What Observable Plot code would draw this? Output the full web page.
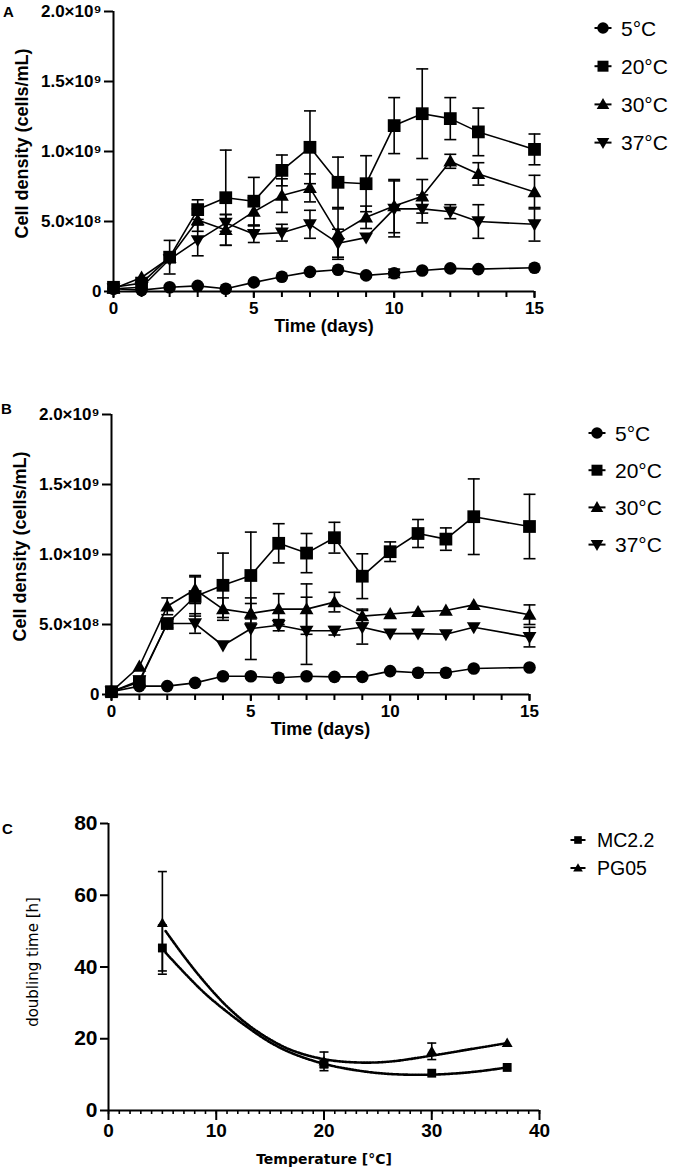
<!DOCTYPE html>
<html><head><meta charset="utf-8">
<script src="https://cdn.jsdelivr.net/npm/d3@7"></script>
<script src="https://cdn.jsdelivr.net/npm/@observablehq/plot@0.6"></script>
<style>
body{margin:0;background:#fff;width:675px;height:1174px;position:relative;overflow:hidden;font-family:"Liberation Sans",Arial,sans-serif}
.panel{position:absolute;left:0}
.letter{position:absolute;font-weight:bold;font-size:15px;line-height:1;color:#000}
.legend{position:absolute;left:0;top:0}
</style></head><body>
<div class="letter" style="left:3px;top:4px">A</div>
<div class="letter" style="left:1px;top:401px">B</div>
<div class="letter" style="left:2px;top:821px">C</div>
<div id="A" class="panel" style="top:0"></div>
<div id="B" class="panel" style="top:403px"></div>
<div id="C" class="panel" style="top:813px"></div>
<svg id="legA" class="legend" width="675" height="1174" style="pointer-events:none"></svg>
<script>
// ---------- data: panels A and B (cell density, ×10^9 cells/mL) ----------
const days = [0,1,2,3,4,5,6,7,8,9,10,11,12,13,15];
const dayMinorTicks = [0,1,2,3,4,5,6,7,8,9,10,11,12,13,14,15];
const dayMajorTicks = [0,5,10,15];
const tempLabels = ["5°C","20°C","30°C","37°C"];
const densityTicks = [0,0.5,1,1.5,2];
const densityTickLabels = ["0","5.0×10⁸","1.0×10⁹","1.5×10⁹","2.0×10⁹"];
const densityTitle = "Cell density (cells/mL)";
const timeTitle = "Time (days)";

const a5   = [0.02,0.01,0.03,0.04,0.02,0.065,0.105,0.14,0.155,0.115,0.13,0.15,0.165,0.16,0.17];
const a5e  = [0,0,0,0,0,0,0,0,0,0,0.03,0,0,0,0];
const a20  = [0.03,0.06,0.245,0.585,0.67,0.645,0.865,1.03,0.78,0.77,1.185,1.27,1.235,1.14,1.015];
const a20e = [0,0,0.12,0.07,0.34,0.17,0.11,0.26,0.18,0.2,0.2,0.32,0.15,0.17,0.11];
const a30  = [0.02,0.1,0.24,0.51,0.44,0.57,0.685,0.74,0.41,0.53,0.61,0.68,0.93,0.84,0.71];
const a30e = [0,0,0,0.08,0.11,0.1,0.12,0.1,0.18,0.08,0.19,0.12,0.05,0.08,0.12];
const a37  = [0.02,0.03,0.23,0.365,0.49,0.41,0.42,0.48,0.345,0.385,0.59,0.59,0.57,0.5,0.48];
const a37e = [0,0,0,0.11,0.06,0.06,0.06,0.1,0.1,0,0.2,0.1,0.05,0.12,0.12];

const b5   = [0.02,0.06,0.06,0.083,0.13,0.13,0.12,0.13,0.126,0.126,0.167,0.155,0.155,0.186,0.193];
const b5e  = [0,0,0,0,0,0,0,0,0,0,0,0,0,0,0];
const b20  = [0.02,0.09,0.507,0.70,0.78,0.85,1.08,1.01,1.12,0.845,1.02,1.15,1.11,1.27,1.20];
const b20e = [0,0,0.03,0.14,0.23,0.31,0.14,0.14,0.11,0.16,0.07,0.1,0.08,0.27,0.23];
const b30  = [0.02,0.2,0.63,0.75,0.61,0.58,0.61,0.61,0.66,0.56,0.575,0.59,0.60,0.64,0.57];
const b30e = [0,0,0.06,0.1,0.08,0.07,0.11,0.18,0.07,0.05,0,0,0,0,0.07];
const b37  = [0.02,0.1,0.507,0.507,0.35,0.47,0.495,0.455,0.455,0.48,0.435,0.435,0.43,0.48,0.41];
const b37e = [0,0,0,0.07,0,0.22,0.04,0.24,0.03,0.12,0,0,0,0,0.07];

// ---------- data: panel C (doubling time) ----------
const cTemps = [5,20,30,37];
const cStrains = ["MC2.2","PG05"];
const mc22  = [45.3,12.9,10.4,12.0];
const mc22e = [6.4,0.8,0.5,0.5];
const pg05  = [52.3,13.7,16.5,18.8];
const pg05e = [14.3,2.6,2.3,0.5];
const fitTemps = [5.3,7,9,11,13,15,17,20,23,26,30,34,37];
const fitMC22  = [44,38.5,32.5,27.5,23,19,16,13,11.2,10.2,10,10.8,12];
const fitPG05  = [50,43,35.5,29,23.8,19.8,16.8,14.3,13.4,13.6,15.3,17.3,18.8];
const cXMinor = [0,1,2,3,4,5,6,7,8,9,10,11,12,13,14,15,16,17,18,19,20,21,22,23,24,25,26,27,28,29,30,31,32,33,34,35,36,37,38,39,40];
const cXTicks = [0,10,20,30,40];
const cYTicks = [0,20,40,60,80];
const cYTitle = "doubling time [h]";
const cXTitle = "Temperature [°C]";

// ---------- symbols ----------
const rr = size => Math.sqrt(size / Math.PI);
const triUp = {draw(c, s){const r = rr(s); c.moveTo(0,-r*1.05); c.lineTo(r*1.05,r*0.78); c.lineTo(-r*1.05,r*0.78); c.closePath();}};
const triDown = {draw(c, s){const r = rr(s); c.moveTo(0,r*1.05); c.lineTo(r*1.05,-r*0.78); c.lineTo(-r*1.05,-r*0.78); c.closePath();}};
const capSym = {draw(c, s){const r = rr(s); c.moveTo(-r,0); c.lineTo(r,0);}};
const growthSyms = [d3.symbolCircle, d3.symbolSquare, triUp, triDown];
const growthR = [6.3, 7.2, 6.6, 6.6];

const font = "'Liberation Sans', Arial, sans-serif";

function growthPlot(series, errs, {marginLeft, marginRight}) {
  const rows = [];
  tempLabels.forEach((t, k) => days.forEach((d, i) => rows.push({t, k, day: d, v: series[k][i], e: errs[k][i]})));
  const er = rows.filter(r => r.e > 0);
  return Plot.plot({
    width: 675, height: 341, marginLeft, marginRight, marginTop: 11, marginBottom: 50,
    x: {domain: [0, 15]}, y: {domain: [0, 2]},
    style: {fontFamily: font, fontSize: "17px", fontWeight: "bold", color: "black", background: "transparent", overflow: "visible"},
    marks: [
      Plot.axisX({ticks: dayMinorTicks, tickSize: 6, tickFormat: () => "", strokeWidth: 2, label: null}),
      Plot.axisX({ticks: dayMajorTicks, tickSize: 7, tickPadding: 3, strokeWidth: 2, fontSize: 17, fontWeight: "bold", label: null}),
      Plot.axisY({ticks: densityTicks, tickSize: 9, tickPadding: 3, strokeWidth: 2, fontSize: 17, fontWeight: "bold", label: null,
        tickFormat: d => densityTickLabels[densityTicks.indexOf(d)]}),
      Plot.ruleY([0], {strokeWidth: 2}),
      Plot.ruleX([0], {strokeWidth: 2}),
      Plot.line(rows, {x: "day", y: "v", z: "t", stroke: "black", strokeWidth: 1.6}),
      Plot.ruleX(er, {x: "day", y1: r => r.v - r.e, y2: r => r.v + r.e, stroke: "black", strokeWidth: 1.6}),
      Plot.dot(er, {x: "day", y: r => r.v + r.e, symbol: capSym, r: 6, stroke: "black", strokeWidth: 1.6, fill: "none"}),
      Plot.dot(er, {x: "day", y: r => r.v - r.e, symbol: capSym, r: 6, stroke: "black", strokeWidth: 1.6, fill: "none"}),
      ...tempLabels.map((t, k) => Plot.dot(rows.filter(r => r.k === k), {x: "day", y: "v", symbol: growthSyms[k], r: growthR[k], fill: "black", stroke: "none"})),
      Plot.text([densityTitle], {text: d => d, frameAnchor: "left", textAnchor: "middle", dx: -91, dy: -8, rotate: -90, fontSize: 18, fontWeight: "bold"}),
      Plot.text([timeTitle], {text: d => d, frameAnchor: "bottom", dy: 40, fontSize: 18, fontWeight: "bold"})
    ]
  });
}

document.getElementById("A").append(growthPlot([a5,a20,a30,a37],[a5e,a20e,a30e,a37e], {marginLeft: 113, marginRight: 141}));
document.getElementById("B").append(growthPlot([b5,b20,b30,b37],[b5e,b20e,b30e,b37e], {marginLeft: 111, marginRight: 146}));

// ---------- panel C ----------
const cSyms = [d3.symbolSquare, triUp];
const cR = [5, 5.2];
const cVals = [mc22, pg05], cErrs = [mc22e, pg05e], cFits = [fitMC22, fitPG05];
const cRows = [], fitRows = [];
cStrains.forEach((s, k) => cTemps.forEach((t, i) => cRows.push({s, k, t, v: cVals[k][i], e: cErrs[k][i]})));
cStrains.forEach((s, k) => fitTemps.forEach((t, i) => fitRows.push({s, k, t, v: cFits[k][i]})));
const cEr = cRows.filter(r => r.e > 0.6);

document.getElementById("C").append(Plot.plot({
  width: 675, height: 361, marginLeft: 108, marginRight: 136, marginTop: 10, marginBottom: 64,
  x: {domain: [0, 40]}, y: {domain: [0, 80]},
  style: {fontFamily: font, fontSize: "20px", fontWeight: "bold", color: "black", background: "transparent", overflow: "visible"},
  marks: [
    Plot.axisX({ticks: cXMinor, tickSize: 4, tickFormat: () => "", strokeWidth: 1.6, label: null}),
    Plot.axisX({ticks: cXTicks, tickSize: 10, tickPadding: 3, strokeWidth: 2, fontSize: 19, fontWeight: "bold", label: null}),
    Plot.axisY({ticks: cYTicks, tickSize: 8, tickPadding: 3, strokeWidth: 2, fontSize: 21, fontWeight: "bold", label: null}),
    Plot.ruleY([0], {strokeWidth: 2}),
    Plot.ruleX([0], {strokeWidth: 2}),
    Plot.line(fitRows, {x: "t", y: "v", z: "s", curve: "catmull-rom", stroke: "black", strokeWidth: 2.6, strokeDasharray: "1.6,1.4"}),
    Plot.ruleX(cEr, {x: "t", y1: r => r.v - r.e, y2: r => r.v + r.e, stroke: "black", strokeWidth: 1.6}),
    Plot.dot(cEr, {x: "t", y: r => r.v + r.e, symbol: capSym, r: 4.5, stroke: "black", strokeWidth: 1.6, fill: "none"}),
    Plot.dot(cEr, {x: "t", y: r => r.v - r.e, symbol: capSym, r: 4.5, stroke: "black", strokeWidth: 1.6, fill: "none"}),
    ...cStrains.map((s, k) => Plot.dot(cRows.filter(r => r.k === k), {x: "t", y: "v", symbol: cSyms[k], r: cR[k], fill: "black", stroke: "none"})),
    Plot.text([cYTitle], {text: d => d, frameAnchor: "left", textAnchor: "middle", dx: -75, dy: -5, rotate: -90, fontSize: 15, fontWeight: "normal", fontFamily: "'DejaVu Sans', sans-serif"}),
    Plot.text([cXTitle], {text: d => d, frameAnchor: "bottom", dy: 53, fontSize: 14, fontWeight: "bold", fontFamily: "'DejaVu Sans', sans-serif"})
  ]
}));

// ---------- legends ----------
const leg = d3.select("#legA");
function legend(labels, syms, radii, {symX, textX, y0, step, fontSize, half}) {
  labels.forEach((lab, i) => {
    const y = y0 + i * step;
    leg.append("line").attr("x1", symX - half).attr("x2", symX + half).attr("y1", y).attr("y2", y)
      .attr("stroke", "black").attr("stroke-width", 2);
    leg.append("path").attr("transform", `translate(${symX},${y})`)
      .attr("d", d3.symbol().type(syms[i]).size(Math.PI * radii[i] * radii[i])()).attr("fill", "black");
    leg.append("text").attr("x", textX).attr("y", y).attr("dy", "0.36em")
      .attr("font-family", font).attr("font-size", fontSize).text(lab);
  });
}
legend(tempLabels, growthSyms, [5.8, 6.2, 6, 6], {symX: 603, textX: 621, y0: 28, step: 38.2, fontSize: 21, half: 8.5});
legend(tempLabels, growthSyms, [5.8, 6.2, 6, 6], {symX: 597, textX: 615, y0: 433, step: 37.2, fontSize: 21, half: 8.5});
legend(cStrains, cSyms, [4.3, 4.6], {symX: 578, textX: 597, y0: 840, step: 28, fontSize: 19.5, half: 7.5});
</script>
</body></html>
